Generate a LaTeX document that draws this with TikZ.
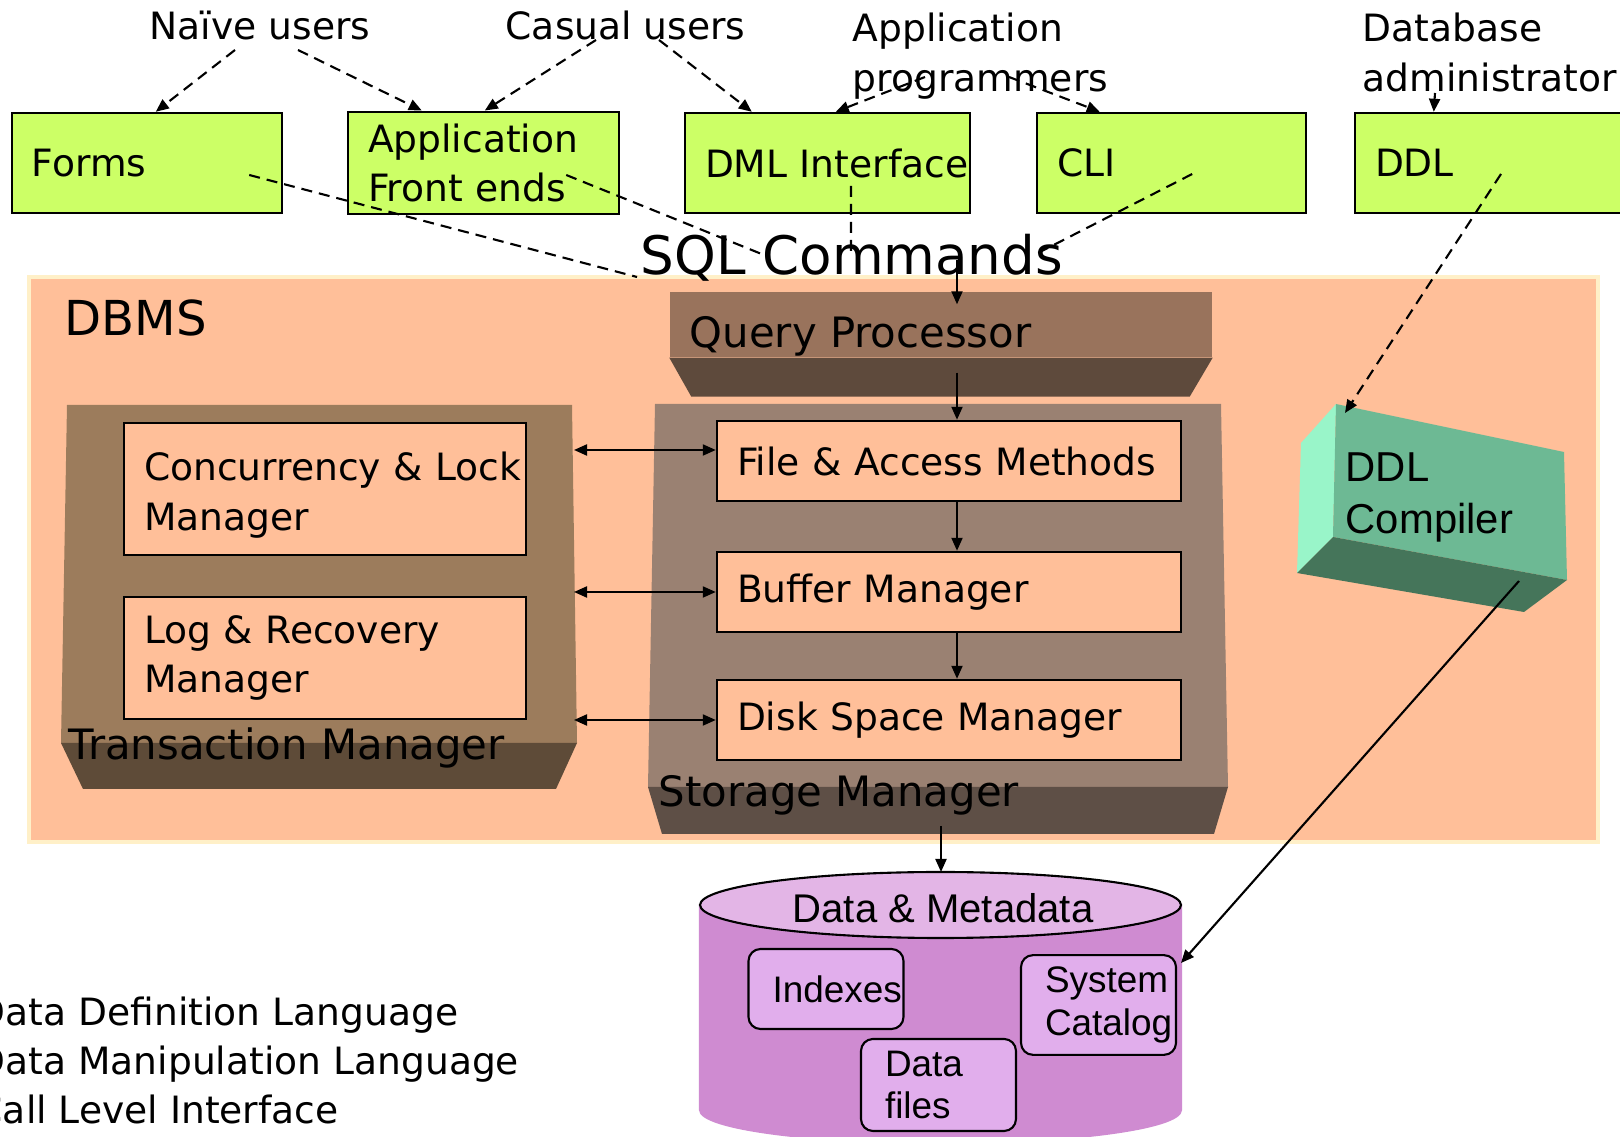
\documentclass[tikz,border=0pt]{standalone}
\usepackage{fontspec}
\setmainfont{DejaVu Sans}
\newfontfamily\arialfont{Liberation Sans}
\usetikzlibrary{arrows.meta, positioning, calc}
\definecolor{ifgreen}{HTML}{CCFF66}
\definecolor{dbmspeach}{HTML}{FFBF99}
\definecolor{dbmsedge}{HTML}{FFF0C8}
\definecolor{qpface}{HTML}{99735C}
\definecolor{qpshade}{HTML}{5E4A3C}
\definecolor{tmface}{HTML}{9C7C5C}
\definecolor{tmshade}{HTML}{5E4B38}
\definecolor{smface}{HTML}{9A8172}
\definecolor{smshade}{HTML}{5E4F46}
\definecolor{ddlfront}{HTML}{6DB994}
\definecolor{ddlside}{HTML}{99F5C9}
\definecolor{ddlbottom}{HTML}{45755A}
\definecolor{dbbody}{HTML}{CF8BD1}
\definecolor{dbcap}{HTML}{E3B5E6}
\definecolor{dbbox}{HTML}{E1AEEC}

\begin{document}
\begin{tikzpicture}[x=0.1mm, y=-0.1mm,
    >={Triangle[length=1.3mm, width=1.1mm]},
    txt/.style={font=\fontsize{10.7pt}{14.2pt}\selectfont},
    lbl/.style={txt, inner sep=0, align=left},
    blk/.style={font=\fontsize{11.9pt}{14pt}\selectfont, inner sep=0, anchor=base west},
    ifc/.style={txt, draw, line width=0.7pt, fill=ifgreen, minimum height=10mm, inner xsep=2mm, align=left, text width=#1},
    mgr/.style={txt, draw, line width=0.7pt, fill=dbmspeach, inner xsep=2mm, align=left, text width=#1},
    part/.style={font=\arialfont\fontsize{10.5pt}{12.2pt}\selectfont, draw, line width=0.6pt, rounded corners=1.2mm, fill=dbbox, minimum height=8mm, inner xsep=2.4mm, align=left, text width=10.7mm},
    flow/.style={->, line width=0.6pt},
    usr/.style={->, line width=0.6pt, dash pattern=on 1.1mm off 0.7mm},
    sql/.style={line width=0.6pt, dash pattern=on 1.1mm off 0.7mm}]
  \clip (0,0) rectangle (1620,1137);
  \fill[white] (0,0) rectangle (1620,1137);

  \node[ifc=23mm] (forms) at (147,163) {Forms};
  \node[ifc=23.1mm] (app) at (483.5,163) {Application\\Front ends};
  \node[ifc=24.5mm] (dml) at (827.5,163) {\mbox{DML Interface}};
  \node[ifc=22.9mm] (cli) at (1171.5,163) {CLI};
  \node[ifc=23mm] (ddl) at (1490,163) {DDL};

  \node[lbl, anchor=base west] (naive) at (149,40) {Naïve users};
  \node[lbl, anchor=base west] (casual) at (505,40) {Casual users};
  \node[lbl, anchor=north west] (progr) at (852,12) {Application\\programmers};
  \node[lbl, anchor=north west] (admin) at (1362,12) {Database\\administrator};

  \draw[usr] ($(naive.base west)+(86,10)$) -- ($(forms.north west)+(145,0)$);
  \draw[usr] ($(naive.base west)+(149,10)$) -- ($(app.north west)+(75,0)$);
  \draw[usr] ($(casual.base west)+(91,0)$) -- ($(app.north west)+(138,0)$);
  \draw[usr] ($(casual.base west)+(154,0)$) -- ($(dml.north west)+(68,0)$);
  \draw[usr] ($(progr.north west)+(73,65)$) -- ($(dml.north west)+(152,0)$);
  \draw[usr] ($(progr.north west)+(157,65)$) -- ($(cli.north west)+(64,0)$);
  \draw[usr] ($(admin.north west)+(73,81)$) -- ($(ddl.north west)+(80,0)$);

  \fill[dbmspeach, draw=dbmsedge, line width=1pt] (29,277) rectangle (1598,842);
  \node[font=\fontsize{13.7pt}{16pt}\selectfont, inner sep=0, anchor=base west] (dbms) at (64,336) {DBMS};

  \node[fill=qpface, minimum width=54.2mm, minimum height=6.5mm, inner sep=0] (qpbox) at (941,324.5) {};
  \fill[qpshade] (qpbox.south west) -- (qpbox.south east) -- ++(-23,39) -- ($(qpbox.south west)+(22,39)$) -- cycle;
  \node[blk] (qp) at (689,348) {Query Processor};

  \fill[tmface] (67,405) -- (572,405) -- (577,743) -- (61,743) -- cycle;
  \fill[tmshade] (61,743) -- (577,743) -- (556,789) -- (83,789) -- cycle;
  \node[blk] (tm) at (68,760) {Transaction Manager};

  \fill[smface] (655,404) -- (1221,404) -- (1228,787) -- (648,787) -- cycle;
  \fill[smshade] (648,787) -- (1228,787) -- (1214,834) -- (662,834) -- cycle;
  \node[blk] (sm) at (658,807) {Storage Manager};

  \node[mgr=36.2mm, minimum height=13.2mm, text depth=4.5mm] (clm) at (325,489) {Concurrency~\&~Lock\\Manager};
  \node[mgr=36.2mm, minimum height=12.2mm] (lrm) at (325,658) {Log \& Recovery\\Manager};
  \node[mgr=42.4mm, minimum height=8mm] (fam) at (949,461) {File \& Access Methods};
  \node[mgr=42.4mm, minimum height=8mm] (bm) at (949,592) {Buffer Manager};
  \node[mgr=42.4mm, minimum height=8mm] (dsm) at (949,720) {Disk Space Manager};

  \node[font=\fontsize{15.1pt}{18pt}\selectfont, inner sep=0, anchor=base west] (sqlcmd) at (640,275) {SQL Commands};
  \draw[sql] ($(forms.east)+(-34,12)$) -- ($(sqlcmd.base west)+(-3,2)$);
  \draw[sql] ($(app.east)+(-54,12)$) -- ($(sqlcmd.base west)+(129,-18)$);
  \draw[sql] ($(dml.center)+(23.5,23)$) -- ($(sqlcmd.base west)+(211,-20)$);
  \draw[sql] ($(cli.east)+(-115,11)$) -- ($(sqlcmd.base west)+(398,-22)$);

  \coordinate (spine) at (957,0);
  \coordinate (tmedge) at (574,0);
  \draw[flow] ($(sqlcmd.base west)+(317,-15)$) -- ($(spine |- qpbox.north)+(0,13)$);
  \draw[flow] ($(spine |- qpbox.south)+(0,15)$) -- (spine |- fam.north);
  \draw[flow] (spine |- fam.south) -- (spine |- bm.north);
  \draw[flow] (spine |- bm.south) -- (spine |- dsm.north);
  \draw[flow, <->] ($(tmedge |- fam.west)+(0,-11)$) -- ($(fam.west)+(0,-11)$);
  \draw[flow, <->] (tmedge |- bm.west) -- (bm.west);
  \draw[flow, <->] (tmedge |- dsm.west) -- (dsm.west);

  \fill[ddlside] (1336,404) -- (1301,443) -- (1297,573) -- (1333,537) -- cycle;
  \fill[ddlfront] (1336,404) -- (1564,452) -- (1567,580) -- (1333,537) -- cycle;
  \fill[ddlbottom] (1297,573) -- (1333,537) -- (1567,580) -- (1524,612) -- cycle;
  \node[font=\arialfont\fontsize{11.9pt}{14.8pt}\selectfont, inner sep=0, align=left, anchor=north west] (ddlc) at (1345,452) {DDL\\Compiler};
  \coordinate (ddlcin) at (1345,413);
  \coordinate (ddlcout) at (1519,581);
  \draw[usr] ($(ddl.center)+(11,11)$) -- (ddlcin);

  \fill[dbbody, draw, line width=0.6pt] (700,905) -- (700,1110) arc[start angle=180, end angle=360, x radius=24.05mm, y radius=3.3mm] -- (1181,905) -- cycle;
  \filldraw[fill=dbcap, line width=0.6pt] (940.5,905) ellipse [x radius=24.05mm, y radius=3.3mm];
  \node[font=\arialfont\fontsize{11.4pt}{14pt}\selectfont, inner sep=0, anchor=base] (dbname) at (943,923) {Data \& Metadata};
  \node[part] (idx) at (826,989) {Indexes};
  \node[part] (cat) at (1098.5,1005) {System\\Catalog};
  \node[part] (files) at (938.5,1085) {Data\\files};
  \coordinate (dbin) at (941,872);
  \coordinate (dbside) at (1181,963);
  \draw[flow] ($(sm.base west)+(283,19)$) -- (dbin);
  \draw[flow] (ddlcout) -- (dbside);

  \node[lbl, anchor=north west, font=\fontsize{10.7pt}{14pt}\selectfont] (legend) at (-24,996) {Data Definition Language\\Data Manipulation Language\\Call Level Interface};
\end{tikzpicture}
\end{document}
